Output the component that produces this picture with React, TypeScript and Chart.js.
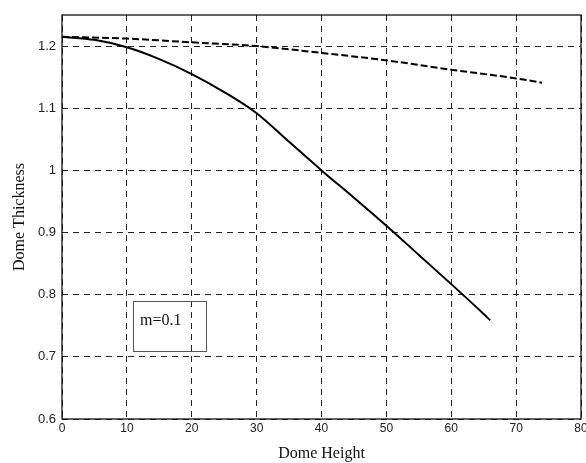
import React, { useEffect, useRef } from "react";
import { Chart, registerables } from "chart.js";

Chart.register(...registerables);

const solidX = [0, 5, 10, 15, 20, 25, 30, 35, 40, 45, 50, 55, 60, 65, 66];
const solidY = [1.215, 1.21, 1.198, 1.179, 1.155, 1.126, 1.092, 1.046, 1.0, 0.956, 0.911, 0.864, 0.817, 0.769, 0.759];

const dashX = [0, 10, 20, 30, 40, 50, 60, 70, 74];
const dashY = [1.215, 1.212, 1.206, 1.2, 1.189, 1.177, 1.162, 1.148, 1.141];

const yTicks = [0.6, 0.7, 0.8, 0.9, 1, 1.1, 1.2];
const xTitle = "Dome Height";
const yTitle = "Dome Thickness";
const noteText = "m=0.1";

const decor = {
  id: "decor",
  afterDraw(chart: any) {
    const { ctx, chartArea } = chart;
    const { left, right, top, bottom } = chartArea;
    ctx.save();
    ctx.strokeStyle = "#111";
    ctx.lineWidth = 1.3;
    ctx.setLineDash([]);
    ctx.strokeRect(left, top, right - left, bottom - top);
    ctx.fillStyle = "#111";
    ctx.font = "16px 'Liberation Serif', 'Times New Roman', serif";
    ctx.textAlign = "center";
    ctx.textBaseline = "alphabetic";
    ctx.fillText(xTitle, (left + right) / 2, 458);
    ctx.save();
    ctx.translate(24, (top + bottom) / 2);
    ctx.rotate(-Math.PI / 2);
    ctx.fillText(yTitle, 0, 0);
    ctx.restore();
    const bx = left + 71;
    const by = top + 286;
    ctx.strokeStyle = "#555";
    ctx.lineWidth = 1;
    ctx.strokeRect(bx + 0.5, by + 0.5, 73, 50);
    ctx.fillStyle = "#111";
    ctx.textAlign = "left";
    ctx.fillText(noteText, bx + 7, by + 24);
    ctx.restore();
  },
};

export default function App() {
  const ref = useRef<HTMLCanvasElement>(null);
  useEffect(() => {
    document.body.style.margin = "0";
    const chart = new Chart(ref.current!, {
      type: "line",
      data: {
        datasets: [
          {
            data: solidX.map((x, i) => ({ x, y: solidY[i] })),
            borderColor: "#000",
            borderWidth: 2,
            pointRadius: 0,
            cubicInterpolationMode: "monotone",
            fill: false,
          },
          {
            data: dashX.map((x, i) => ({ x, y: dashY[i] })),
            borderColor: "#000",
            borderWidth: 2,
            borderDash: [7, 3],
            pointRadius: 0,
            cubicInterpolationMode: "monotone",
            fill: false,
          },
        ],
      },
      options: {
        animation: false,
        responsive: false,
        maintainAspectRatio: false,
        layout: { padding: { top: 15, right: 5, left: 0, bottom: 0 } },
        plugins: { legend: { display: false }, tooltip: { enabled: false } },
        scales: {
          x: {
            type: "linear",
            min: 0,
            max: 80,
            ticks: {
              stepSize: 10,
              color: "#222",
              padding: 2,
              maxRotation: 0,
              font: { family: "'Liberation Sans', Arial, sans-serif", size: 12 },
            },
            grid: { color: "#222", lineWidth: 1, drawTicks: false },
            border: { display: false, dash: [6, 5] },
            afterFit: (s: any) => {
              s.height = 44;
              s.paddingLeft = 0;
              s.paddingRight = 0;
            },
          },
          y: {
            type: "linear",
            min: 0.6,
            max: 1.25,
            afterBuildTicks: (s: any) => {
              s.ticks = yTicks.map((v) => ({ value: v }));
            },
            ticks: {
              color: "#222",
              padding: 6,
              callback: (v: any) => String(Math.round(v * 10) / 10),
              font: { family: "'Liberation Sans', Arial, sans-serif", size: 13 },
            },
            grid: { color: "#222", lineWidth: 1, drawTicks: false },
            border: { display: false, dash: [6, 5] },
            afterFit: (s: any) => {
              s.width = 62;
              s.paddingTop = 0;
              s.paddingBottom = 0;
            },
          },
        },
      },
      plugins: [decor],
    });
    return () => chart.destroy();
  }, []);
  return (
    <div style={{ width: 586, height: 463 }}>
      <canvas ref={ref} width={586} height={463} style={{ display: "block" }} />
    </div>
  );
}
